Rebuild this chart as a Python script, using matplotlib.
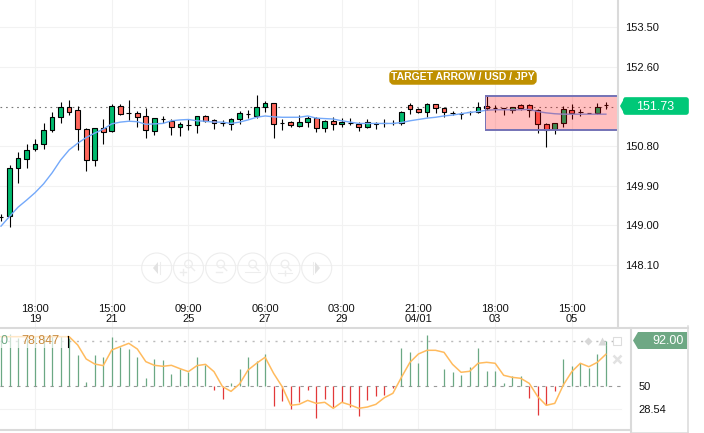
import matplotlib
matplotlib.use('Agg')
import matplotlib.pyplot as plt
import matplotlib.patches as mpatches
import numpy as np

W, H = 704, 433

opens = [149.18, 149.20, 150.29, 150.51, 150.72, 150.84, 151.15, 151.45, 151.68, 151.61,
         151.18, 150.47, 151.20, 151.13, 151.70, 151.54, 151.54, 151.47, 151.13, 151.41,
         151.36, 151.22, 151.28, 151.27, 151.47, 151.38, 151.31, 151.29, 151.42, 151.53,
         151.49, 151.68, 151.77, 151.33, 151.34, 151.25, 151.34, 151.43, 151.20, 151.36,
         151.29, 151.32, 151.29, 151.22, 151.29, 151.33, 151.33, 151.32, 151.72, 151.63,
         151.56, 151.74, 151.65, 151.55, 151.53, 151.56, 151.56, 151.70, 151.67, 151.65,
         151.62, 151.72, 151.72, 151.62, 151.29, 151.18, 151.31, 151.62, 151.58, 151.54,
         151.54, 151.72]
closes = [149.18, 150.29, 150.52, 150.70, 150.84, 151.15, 151.45, 151.68, 151.58, 151.18,
          150.47, 151.20, 151.12, 151.70, 151.53, 151.54, 151.46, 151.15, 151.43, 151.41,
          151.22, 151.29, 151.28, 151.47, 151.37, 151.31, 151.31, 151.42, 151.54, 151.53,
          151.68, 151.77, 151.29, 151.33, 151.27, 151.34, 151.43, 151.20, 151.36, 151.29,
          151.35, 151.32, 151.22, 151.35, 151.33, 151.33, 151.33, 151.56, 151.63, 151.56,
          151.74, 151.65, 151.56, 151.55, 151.53, 151.56, 151.69, 151.65, 151.65, 151.65,
          151.68, 151.67, 151.62, 151.29, 151.16, 151.31, 151.63, 151.55, 151.58, 151.54,
          151.68, 151.72]
highs = [149.26, 150.37, 150.67, 150.84, 150.95, 151.31, 151.56, 151.79, 151.84, 151.71,
         151.20, 151.20, 151.42, 151.74, 151.74, 151.84, 151.59, 151.66, 151.43, 151.48,
         151.42, 151.34, 151.40, 151.48, 151.50, 151.40, 151.39, 151.44, 151.59, 151.62,
         151.95, 151.82, 151.77, 151.40, 151.37, 151.51, 151.48, 151.45, 151.39, 151.46,
         151.43, 151.43, 151.35, 151.42, 151.34, 151.41, 151.39, 151.60, 151.77, 151.65,
         151.77, 151.76, 151.69, 151.59, 151.56, 151.60, 151.79, 151.94, 151.73, 151.65,
         151.69, 151.75, 151.74, 151.64, 151.31, 151.33, 151.71, 151.75, 151.63, 151.54,
         151.77, 151.79]
lows = [149.10, 148.97, 149.97, 150.31, 150.69, 150.73, 151.12, 151.31, 151.50, 150.71,
        150.24, 150.35, 150.85, 151.12, 151.50, 151.39, 151.24, 150.97, 151.05, 151.31,
        151.05, 151.03, 151.15, 151.10, 151.34, 151.19, 151.25, 151.16, 151.29, 151.44,
        151.43, 151.57, 150.99, 151.15, 151.22, 151.24, 151.22, 151.12, 151.12, 151.17,
        151.22, 151.27, 151.13, 151.20, 151.19, 151.22, 151.28, 151.28, 151.53, 151.54,
        151.46, 151.54, 151.45, 151.50, 151.42, 151.51, 151.54, 151.62, 151.56, 151.50,
        151.55, 151.62, 151.46, 151.09, 150.78, 151.06, 151.24, 151.41, 151.49, 151.54,
        151.52, 151.64]
ma_line = [148.98, 149.20, 149.41, 149.57, 149.74, 149.94, 150.19, 150.48, 150.71, 150.86,
           150.99, 151.09, 151.18, 151.30, 151.34, 151.36, 151.35, 151.29, 151.30, 151.31,
           151.37, 151.39, 151.40, 151.37, 151.36, 151.34, 151.34, 151.31, 151.34, 151.39,
           151.45, 151.48, 151.46, 151.45, 151.45, 151.45, 151.48, 151.43, 151.42, 151.41,
           151.37, 151.34, 151.31, 151.31, 151.31, 151.31, 151.31, 151.33, 151.37, 151.40,
           151.43, 151.45, 151.48, 151.50, 151.53, 151.56, 151.58, 151.61, 151.62, 151.62,
           151.62, 151.62, 151.63, 151.58, 151.55, 151.53, 151.52, 151.52, 151.52, 151.52,
           151.52, 151.52]
osc_bars = [93.2, 98.5, 95.4, 95.4, 97.3, 96.3, 97.9, 96.7, 95.4, 79.2,
            53.7, 79.2, 77.1, 95.7, 87.0, 84.8, 77.1, 57.5, 75.2, 74.3,
            61.2, 66.2, 63.7, 77.1, 69.9, 46.3, 37.9, 52.8, 65.9, 77.1,
            73.6, 79.9, 31.3, 36.0, 28.5, 35.1, 46.3, 20.1, 38.2, 31.0,
            35.7, 30.4, 22.0, 36.9, 40.7, 41.6, 48.8, 85.5, 81.7, 71.5,
            97.9, 50.3, 66.2, 63.1, 60.6, 67.7, 85.5, 64.3, 64.3, 52.8,
            59.6, 59.6, 39.4, 22.9, 32.6, 46.0, 75.5, 68.7, 71.5, 67.4,
            79.9, 92.0]
osc_line = [96.3, 96.3, 96.3, 96.3, 96.3, 96.3, 96.3, 96.3, 96.3, 88.6,
            75.5, 70.8, 69.3, 83.9, 87.0, 90.1, 84.8, 73.0, 69.6, 68.7,
            69.6, 66.5, 63.7, 69.3, 70.5, 63.7, 49.7, 45.3, 52.2, 65.2,
            71.5, 77.1, 62.1, 49.7, 32.3, 33.2, 36.9, 34.1, 35.1, 29.5,
            35.1, 32.6, 29.5, 30.7, 33.2, 39.4, 43.5, 58.4, 72.4, 80.2,
            83.6, 83.6, 81.7, 70.5, 63.1, 64.0, 71.5, 72.4, 71.5, 60.3,
            58.4, 57.5, 52.8, 40.4, 32.3, 34.1, 51.2, 63.7, 71.5, 68.3,
            72.4, 79.9]

price_ticks = [153.50, 152.60, 150.80, 149.90, 149.00, 148.10]
price_labels = ["153.50", "152.60", "150.80", "149.90", "149.00", "148.10"]
time_ticks = [4, 13, 22, 31, 40, 49, 58, 67]
time_labels = ["18:00\n19", "15:00\n21", "09:00\n25", "06:00\n27",
               "03:00\n29", "21:00\n04/01", "18:00\n03", "15:00\n05"]
osc_ticks = [50, 28.54]
osc_labels = ["50", "28.54"]

GREEN = "#00BA6E"
RED = "#FF675C"
GRID = "#F2F2F2"
BAND = "#DADADA"

plt.rcParams['font.family'] = ['Liberation Sans', 'DejaVu Sans']


def px_axes(fig, left, top, right, bottom, **kw):
    return fig.add_axes([left / W, 1 - bottom / H, (right - left) / W, (bottom - top) / H], **kw)


fig = plt.figure(figsize=(W / 100, H / 100), dpi=100, facecolor="white")

# ── price panel ──────────────────────────────────────────────────────────────
ax = px_axes(fig, 0, 0, 618, 328)
x = np.arange(len(opens))
ax.set_xlim(-0.117, 72.42)
ax.set_ylim(146.67, 154.11)
ax.spines[:].set_visible(False)
ax.set_axisbelow(True)
ax.grid(True, color=GRID, linewidth=0.8)
ax.axhline(151.69, color="#777777", linestyle=(0, (1.5, 3.5)), linewidth=0.8, zorder=1)

ax.vlines(x, lows, highs, color="black", linewidth=0.8, zorder=3)
colors = [GREEN if c >= o else RED for o, c in zip(opens, closes)]
heights = np.array(closes) - np.array(opens)
ax.bar(x, heights, bottom=opens, width=0.55, color=colors, edgecolor="black", linewidth=0.8, zorder=4)
ax.plot(x, ma_line, color="#74A9FA", linewidth=1.0, zorder=5)

# target zone
ax.add_patch(mpatches.Rectangle((56.8, 151.16), 16, 0.78, facecolor="#FF0000", alpha=0.25,
                                edgecolor="none", zorder=6))
ax.hlines([151.94, 151.16], 56.8, 72.42, color="#7472B6", linewidth=1.4, zorder=7)
ax.vlines(56.8, 151.16, 151.94, color="#7472B6", linewidth=0.7, zorder=7)

ax.set_yticks(price_ticks)
ax.set_yticklabels(price_labels, fontsize=8, color="#111111")
ax.yaxis.tick_right()
ax.tick_params(axis="y", length=0, pad=5)
ax.set_xticks(time_ticks)
ax.set_xticklabels(time_labels, fontsize=8, color="#111111", linespacing=0.9)
ax.tick_params(axis="x", length=0, pad=-17)

# ── oscillator panel ─────────────────────────────────────────────────────────
ax2 = px_axes(fig, 0, 328, 630, 429)
ax2.set_xlim(-0.117, 73.83)
ax2.set_ylim(10.2, 104.4)
ax2.spines[:].set_visible(False)
ax2.set_axisbelow(True)
ax2.set_xticks(time_ticks)
ax2.xaxis.grid(True, color=GRID, linewidth=0.8)
ax2.tick_params(axis="x", length=0, labelbottom=False)
ax2.axhline(28.54, xmax=0.985, color=GRID, linewidth=0.8, zorder=1)
ax2.axhline(92, xmax=0.985, color="#BBBBBB", linestyle=(0, (1.5, 4)), linewidth=1, zorder=1)
ax2.axhline(50, xmax=0.985, color="#999999", linestyle=(0, (3, 4.5)), linewidth=0.8, zorder=1)
bar_colors = ["#6BA884" if v >= 50 else "#E2393A" for v in osc_bars]
ax2.vlines(x, 50, osc_bars, colors=bar_colors, linewidth=0.9, zorder=3)
ax2.plot(x, osc_line, color="#FFBB5E", linewidth=1.1, zorder=4)
ax2.set_yticks(osc_ticks)
ax2.set_yticklabels(osc_labels, fontsize=8, color="#111111")
ax2.yaxis.tick_right()
ax2.tick_params(axis="y", length=0, pad=6)

# ── chart furniture, placed in pixels ────────────────────────────────────────
ui = fig.add_axes([0, 0, 1, 1], zorder=10)
ui.set_xlim(0, W)
ui.set_ylim(H, 0)
ui.axis("off")
ui.patch.set_alpha(0)

ui.plot([618, 618], [0, 328], color=BAND, linewidth=1.5)
ui.plot([0, 688], [328, 328], color=BAND, linewidth=1.5)
ui.plot([0, 631], [429.5, 429.5], color=BAND, linewidth=1.5)
ui.plot([630.5, 630.5], [328, 433], color=BAND, linewidth=1.5)
ui.plot([688, 688], [326, 433], color=BAND, linewidth=1.1)
ui.plot([632, 688], [432.5, 432.5], color=BAND, linewidth=1.1)

# annotation tag
ui.add_patch(mpatches.FancyBboxPatch((391, 72), 144, 11, boxstyle="round,pad=0,rounding_size=3",
                                     facecolor="#BF9000", edgecolor="#BF9000", linewidth=2.5))
ui.text(463, 77.5, "TARGET ARROW / USD / JPY", color="white", fontsize=7.5, fontweight="bold",
        ha="center", va="center")

# last price tag
ui.add_patch(mpatches.FancyBboxPatch((624, 98), 64, 16, boxstyle="round,pad=0,rounding_size=2",
                                     facecolor="#00C878", edgecolor="#00C878", linewidth=1.2))
ui.add_patch(mpatches.Polygon([[620, 106], [625, 97], [625, 115]], facecolor="#00C878", edgecolor="none"))
ui.text(655, 106.5, "151.73", color="white", fontsize=9, ha="center", va="center")

# oscillator value tag
ui.add_patch(mpatches.Polygon([[633, 340.5], [638, 332], [687, 332], [687, 349], [638, 349]],
                              facecolor="#6EA884", edgecolor="none"))
ui.text(668, 340.5, "92.00", color="white", fontsize=9, ha="center", va="center")

# oscillator legend, fades what is behind it
ui.add_patch(mpatches.Rectangle((0, 330), 67, 17.5, facecolor="white", alpha=0.65, edgecolor="none"))
ui.text(0.5, 341, "0", color="#6BA884", fontsize=9, ha="left", va="center")
ui.text(21, 341, "78.847", color="#C98B3E", fontsize=9, ha="left", va="center")
ui.plot([67.5, 67.5], [336, 347], color="black", linewidth=0.8)

# corner icons
ui.plot([588], [341], marker="D", markersize=4.5, color="#D8D8D8", markeredgecolor="none")
ui.plot([602], [341], marker="^", markersize=6, color="#D8D8D8", markeredgecolor="none")
ui.plot([617], [341], marker="s", markersize=6, markerfacecolor="white", markeredgecolor="#DDDDDD",
        markeredgewidth=0.8)
ui.plot([617], [359], marker="x", markersize=6, markeredgewidth=1.8, color="#E2E2E2")

# navigation buttons
BTN = "#EDEDED"
btn_x = [156.7, 188.5, 220.7, 252.7, 285, 316.7]
for bx in btn_x:
    ui.add_patch(mpatches.Circle((bx, 268), 15, facecolor="none", edgecolor=BTN, linewidth=0.8))
ui.add_patch(mpatches.Polygon([[153, 268], [158, 262], [158, 274]], facecolor="#E2E2E2", edgecolor="none"))
ui.plot([160, 160], [262, 274], color=BTN, linewidth=0.8)
ui.add_patch(mpatches.Polygon([[320, 268], [315, 262], [315, 274]], facecolor="#E2E2E2", edgecolor="none"))
ui.plot([313, 313], [262, 274], color=BTN, linewidth=0.8)
for bx in btn_x[1:5]:
    ui.add_patch(mpatches.Circle((bx, 264), 3.8, facecolor="none", edgecolor=BTN, linewidth=0.9))
    ui.plot([bx + 2.5, bx + 6], [267, 270.5], color=BTN, linewidth=1)
ui.plot([180, 186], [271.5, 271.5], color=BTN, linewidth=1)
ui.plot([183, 183], [268.5, 274.5], color=BTN, linewidth=1)
ui.plot([216, 222], [272, 272], color=BTN, linewidth=1)
ui.plot([245, 260], [272, 272], color=BTN, linewidth=0.8)
ui.plot([278, 292], [273, 273], color=BTN, linewidth=0.8)
ui.plot([285], [273], marker="|", markersize=5, color=BTN)

fig.savefig("out.png", dpi=100, facecolor="white")
